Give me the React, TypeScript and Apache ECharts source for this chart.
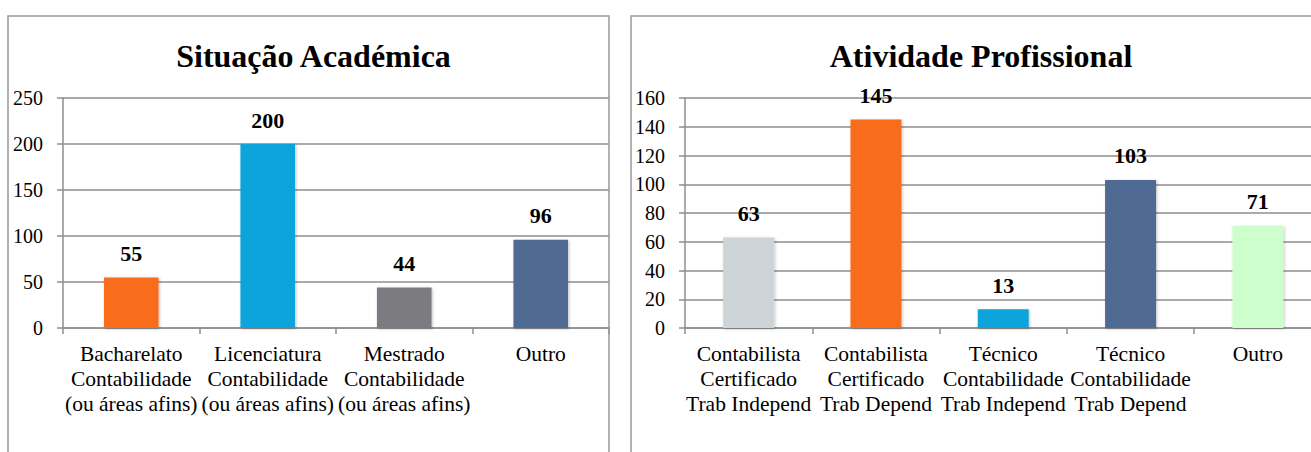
import React, { useEffect, useRef } from "react";
import * as echarts from "echarts";

const leftTitle = "Situação Académica";
const leftCategories = [
  "Bacharelato\nContabilidade\n(ou áreas afins)",
  "Licenciatura\nContabilidade\n(ou áreas afins)",
  "Mestrado\nContabilidade\n(ou áreas afins)",
  "Outro",
];
const leftValues = [55, 200, 44, 96];
const leftColors = ["#F86C1D", "#0AA3DB", "#7B7C80", "#4F6B93"];

const rightTitle = "Atividade Profissional";
const rightCategories = [
  "Contabilista\nCertificado\nTrab Independ",
  "Contabilista\nCertificado\nTrab Depend",
  "Técnico\nContabilidade\nTrab Independ",
  "Técnico\nContabilidade\nTrab Depend",
  "Outro",
];
const rightValues = [63, 145, 13, 103, 71];
const rightColors = ["#CDD5D8", "#F86C1D", "#0AA3DB", "#4F6B93", "#CCFFCC"];

const FONT = "'Liberation Serif', 'Times New Roman', serif";
const LINE = "#8E8E8E";

export default function App() {
  const ref = useRef<HTMLDivElement>(null);
  useEffect(() => {
    if (!ref.current) return;
    const chart = echarts.init(ref.current, null, { renderer: "svg" });
    const catAxis = (idx: number, data: string[]) => ({
      type: "category",
      gridIndex: idx,
      data,
      axisLine: { show: true, lineStyle: { color: LINE, width: 1.5 } },
      axisTick: { show: true, length: 6, lineStyle: { color: LINE, width: 1.5 } },
      axisLabel: {
        interval: 0,
        margin: 13,
        color: "#000",
        fontFamily: FONT,
        fontSize: 21.5,
        lineHeight: 25,
        verticalAlign: "top",
      },
    });
    const valAxis = (idx: number, max: number, interval: number) => ({
      type: "value",
      gridIndex: idx,
      min: 0,
      max,
      interval,
      axisLine: { show: true, lineStyle: { color: LINE, width: 1.5 } },
      axisTick: { show: true, length: 6, lineStyle: { color: LINE, width: 1.5 } },
      splitLine: { show: true, lineStyle: { color: LINE, width: 1.5 } },
      axisLabel: { margin: 20, color: "#000", fontFamily: FONT, fontSize: 20 },
    });
    const barSeries = (idx: number, values: number[], colors: string[]) => ({
      type: "bar",
      xAxisIndex: idx,
      yAxisIndex: idx,
      barWidth: "40%",
      data: values.map((v, i) => ({
        value: v,
        itemStyle: {
          color: colors[i],
          shadowColor: "rgba(0,0,0,0.25)",
          shadowBlur: 3,
          shadowOffsetX: 1,
          shadowOffsetY: 1,
        },
      })),
      label: {
        show: true,
        position: "top",
        distance: 13,
        color: "#000",
        fontFamily: FONT,
        fontWeight: "bold",
        fontSize: 22,
      },
    });
    chart.setOption({
      animation: false,
      backgroundColor: "#fff",
      title: [
        {
          text: leftTitle,
          left: 308.5,
          top: 35,
          textAlign: "center",
          textStyle: { fontFamily: FONT, fontWeight: "bold", fontSize: 32, color: "#000" },
        },
        {
          text: rightTitle,
          left: 976,
          top: 35,
          textAlign: "center",
          textStyle: { fontFamily: FONT, fontWeight: "bold", fontSize: 32, color: "#000" },
        },
      ],
      graphic: [
        {
          type: "rect",
          shape: { x: 8, y: 16, width: 601, height: 460 },
          style: { fill: "none", stroke: "#999", lineWidth: 1.5 },
          z: 10,
        },
        {
          type: "rect",
          shape: { x: 631, y: 16, width: 690, height: 460 },
          style: { fill: "none", stroke: "#999", lineWidth: 1.5 },
          z: 10,
        },
      ],
      grid: [
        { left: 63, top: 98, width: 546, height: 230 },
        { left: 685, top: 98, width: 636.5, height: 230 },
      ],
      xAxis: [catAxis(0, leftCategories), catAxis(1, rightCategories)],
      yAxis: [valAxis(0, 250, 50), valAxis(1, 160, 20)],
      series: [barSeries(0, leftValues, leftColors), barSeries(1, rightValues, rightColors)],
    });
    return () => chart.dispose();
  }, []);
  return (
    <div
      ref={ref}
      style={{ position: "fixed", left: 0, top: 0, width: 1330, height: 452, background: "#fff" }}
    />
  );
}
